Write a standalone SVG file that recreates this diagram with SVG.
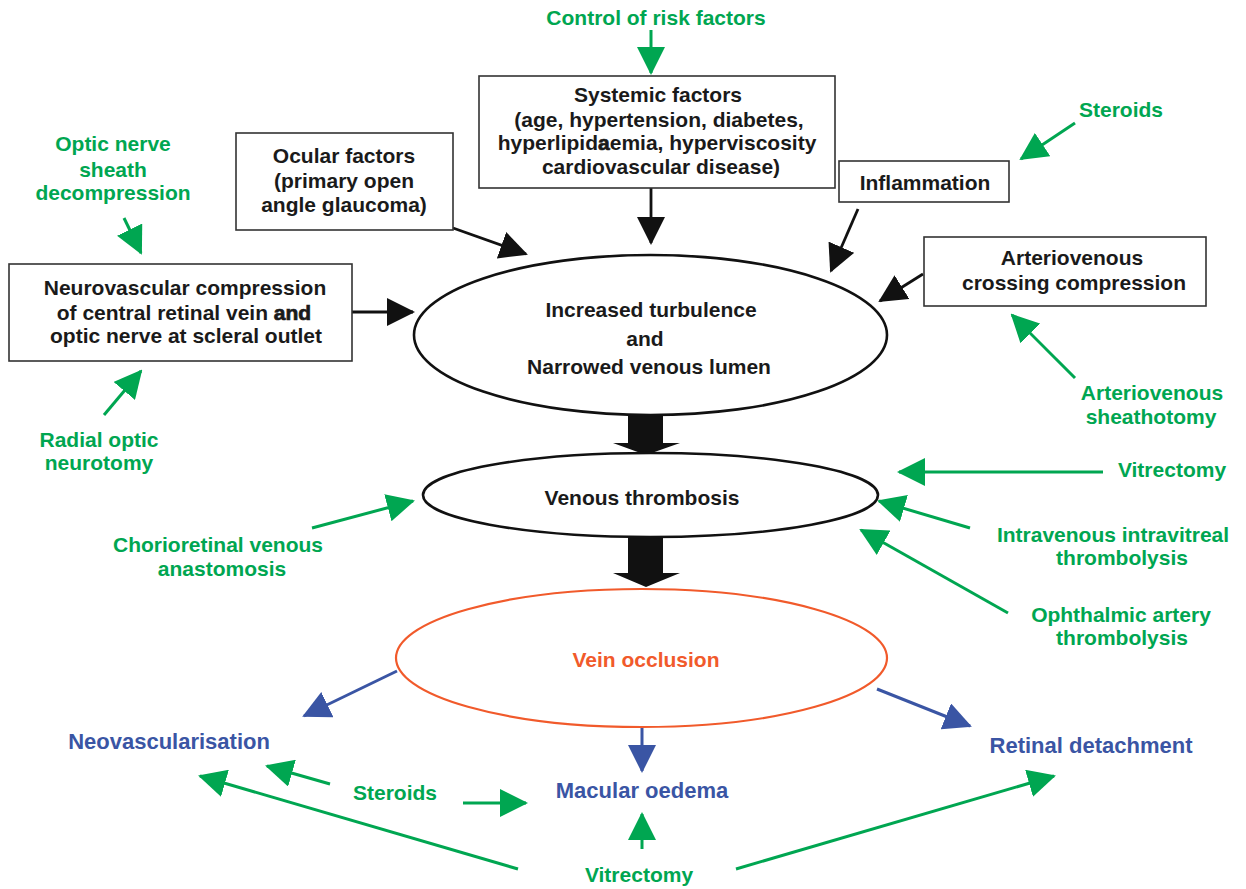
<svg xmlns="http://www.w3.org/2000/svg" width="1246" height="889" viewBox="0 0 1246 889">
<style>
text{font-family:"Liberation Sans",Arial,sans-serif;font-weight:bold;font-size:21px;text-anchor:middle}
.k{fill:#1a1a1a}
.g{fill:#00a651}
.b{fill:#3a55a4;font-size:22px}
.r{fill:#f15a2b}
.box{fill:#fff;stroke:#333;stroke-width:1.6}
.ell{fill:#fff;stroke:#111;stroke-width:2.6}
.lk{stroke:#111;stroke-width:2.8;fill:none}
.lg{stroke:#00a651;stroke-width:3;fill:none}
.lb{stroke:#3a55a4;stroke-width:3;fill:none}
.thick{stroke:#1a1a1a;stroke-width:0.7}
</style>
<defs>
<marker id="hk" markerUnits="userSpaceOnUse" markerWidth="28" markerHeight="28" refX="26" refY="14" orient="auto" viewBox="0 0 28 28"><path d="M0,0 L28,14 L0,28 Z" fill="#111"/></marker>
<marker id="hg" markerUnits="userSpaceOnUse" markerWidth="28" markerHeight="28" refX="26" refY="14" orient="auto" viewBox="0 0 28 28"><path d="M0,0 L28,14 L0,28 Z" fill="#00a651"/></marker>
<marker id="hb" markerUnits="userSpaceOnUse" markerWidth="28" markerHeight="28" refX="26" refY="14" orient="auto" viewBox="0 0 28 28"><path d="M0,0 L28,14 L0,28 Z" fill="#3a55a4"/></marker>
</defs>
<rect width="1246" height="889" fill="#fff"/>

<g id="connectors">
<line class="lk" x1="651" y1="188" x2="651" y2="243" marker-end="url(#hk)"/>
<line class="lk" x1="453" y1="228" x2="526" y2="254" marker-end="url(#hk)"/>
<line class="lk" x1="858" y1="209" x2="831" y2="271" marker-end="url(#hk)"/>
<line class="lk" x1="923" y1="274" x2="880" y2="301" marker-end="url(#hk)"/>
<line class="lk" x1="352" y1="312" x2="413" y2="312" marker-end="url(#hk)"/>
<line class="lg" x1="651" y1="30" x2="651" y2="73" marker-end="url(#hg)"/>
<line class="lg" x1="124" y1="218" x2="141" y2="253" marker-end="url(#hg)"/>
<line class="lg" x1="1075" y1="123" x2="1021" y2="159" marker-end="url(#hg)"/>
<line class="lg" x1="1075" y1="378" x2="1012" y2="315" marker-end="url(#hg)"/>
<line class="lg" x1="1103" y1="472" x2="899" y2="472" marker-end="url(#hg)"/>
<line class="lg" x1="970" y1="528" x2="879" y2="501" marker-end="url(#hg)"/>
<line class="lg" x1="1008" y1="613" x2="861" y2="530" marker-end="url(#hg)"/>
<line class="lg" x1="104" y1="415" x2="141" y2="371" marker-end="url(#hg)"/>
<line class="lg" x1="312" y1="528" x2="413" y2="501" marker-end="url(#hg)"/>
<line class="lg" x1="330" y1="784" x2="267" y2="766" marker-end="url(#hg)"/>
<line class="lg" x1="518" y1="869" x2="200" y2="776" marker-end="url(#hg)"/>
<line class="lg" x1="463" y1="803" x2="526" y2="803" marker-end="url(#hg)"/>
<line class="lg" x1="642" y1="849" x2="642" y2="814" marker-end="url(#hg)"/>
<line class="lg" x1="736" y1="869" x2="1054" y2="776" marker-end="url(#hg)"/>
<line class="lb" x1="397" y1="671" x2="304" y2="716" marker-end="url(#hb)"/>
<line class="lb" x1="642" y1="727" x2="642" y2="771" marker-end="url(#hb)"/>
<line class="lb" x1="877" y1="689" x2="970" y2="726" marker-end="url(#hb)"/>
<polygon points="628,413 663,413 663,443 680,443 646,455 613,443 628,443" fill="#111"/>
<polygon points="628,535 663,535 663,573 680,573 646,587 613,573 628,573" fill="#111"/>
</g>

<g id="ocular">
<rect class="box" x="236" y="133" width="217" height="97"/>
<text class="k" x="344" y="163">Ocular factors</text>
<text class="k" x="344" y="188">(primary open</text>
<text class="k" x="344" y="212">angle glaucoma)</text>
</g>

<g id="systemic">
<rect class="box" x="479" y="76" width="356" height="112"/>
<text class="k" x="658" y="102">Systemic factors</text>
<text class="k" x="659" y="127">(age, hypertension, diabetes,</text>
<text class="k" x="657" y="150">hyperlipid<tspan class="thick">a</tspan>emia, hyperviscosity</text>
<text class="k" x="661" y="174">cardiovascular disease)</text>
</g>

<g id="inflammation">
<rect class="box" x="839" y="161" width="170" height="41"/>
<text class="k" x="925" y="190">Inflammation</text>
</g>

<g id="av-crossing">
<rect class="box" x="924" y="237" width="282" height="69"/>
<text class="k" x="1072" y="265">Arteriovenous</text>
<text class="k" x="1074" y="290">crossing compression</text>
</g>

<g id="neurovascular">
<rect class="box" x="9" y="264" width="343" height="97"/>
<text class="k" x="185" y="295">Neurovascular compression</text>
<text class="k" x="184" y="320">of central retinal vein <tspan class="thick">and</tspan></text>
<text class="k" x="186" y="343">optic nerve at scleral outlet</text>
</g>

<g id="turbulence">
<ellipse class="ell" cx="650.5" cy="335" rx="236.5" ry="80"/>
<text class="k" x="651" y="317">Increased turbulence</text>
<text class="k" x="645" y="346">and</text>
<text class="k" x="649" y="374">Narrowed venous lumen</text>
</g>

<g id="thrombosis">
<ellipse class="ell" cx="650.5" cy="495" rx="227.5" ry="42"/>
<text class="k" x="642" y="505">Venous thrombosis</text>
</g>

<g id="occlusion">
<ellipse cx="641.5" cy="658" rx="245.5" ry="69" fill="none" stroke="#f15a2b" stroke-width="2.2"/>
<text class="r" x="646" y="667">Vein occlusion</text>
</g>

<g id="neovascularisation"><text class="b" x="169" y="749">Neovascularisation</text></g>
<g id="macular-oedema"><text class="b" x="642" y="798">Macular oedema</text></g>
<g id="retinal-detachment"><text class="b" x="1091" y="753">Retinal detachment</text></g>

<g id="control-risk"><text class="g" x="656" y="25">Control of risk factors</text></g>
<g id="optic-sheath">
<text class="g" x="113" y="151">Optic nerve</text>
<text class="g" x="113" y="177">sheath</text>
<text class="g" x="113" y="200">decompression</text>
</g>
<g id="steroids-top"><text class="g" x="1121" y="117">Steroids</text></g>
<g id="av-sheathotomy">
<text class="g" x="1152" y="400">Arteriovenous</text>
<text class="g" x="1151" y="424">sheathotomy</text>
</g>
<g id="radial-optic">
<text class="g" x="99" y="447">Radial optic</text>
<text class="g" x="99" y="470">neurotomy</text>
</g>
<g id="chorioretinal">
<text class="g" x="218" y="552">Chorioretinal  venous</text>
<text class="g" x="222" y="576">anastomosis</text>
</g>
<g id="vitrectomy-right"><text class="g" x="1172" y="477">Vitrectomy</text></g>
<g id="intravenous">
<text class="g" x="1113" y="542">Intravenous  intravitreal</text>
<text class="g" x="1122" y="565">thrombolysis</text>
</g>
<g id="ophthalmic">
<text class="g" x="1121" y="622">Ophthalmic artery</text>
<text class="g" x="1122" y="645">thrombolysis</text>
</g>
<g id="steroids-bottom"><text class="g" x="395" y="800">Steroids</text></g>
<g id="vitrectomy-bottom"><text class="g" x="639" y="882">Vitrectomy</text></g>
</svg>
